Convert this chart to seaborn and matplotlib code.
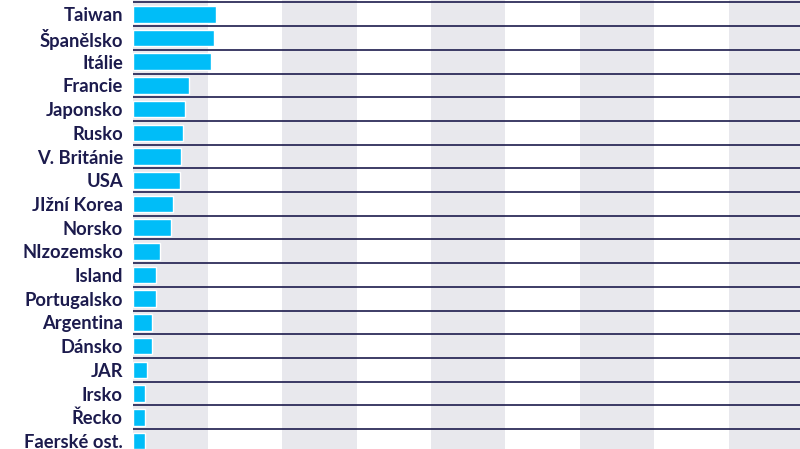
import matplotlib
matplotlib.use("Agg")
import matplotlib.pyplot as plt
import seaborn as sns
import pandas as pd

countries = ["Taiwan", "Španělsko", "Itálie", "Francie", "Japonsko", "Rusko",
             "V. Británie", "USA", "JIžní Korea", "Norsko", "NIzozemsko", "Island",
             "Portugalsko", "Argentina", "Dánsko", "JAR", "Irsko", "Řecko", "Faerské ost."]
values = [22.1, 21.6, 20.9, 14.9, 13.9, 13.4, 12.8, 12.6, 10.8, 10.1, 7.1, 6.0,
          6.0, 4.9, 4.9, 3.8, 3.2, 3.2, 3.2]

df = pd.DataFrame({"country": countries, "value": values})

sns.set_theme(style="white")
plt.rcParams["font.family"] = ["Lato", "DejaVu Sans"]

navy = "#1c1b4d"
fig = plt.figure(figsize=(8, 4.49), dpi=100)
ax = fig.add_axes([133.3 / 800, 0, 1 - 133.3 / 800, 1])

band = 20
for start in range(0, 200, 2 * band):
    ax.axvspan(start, start + band, color="#e8e8ed", lw=0, zorder=0)

sns.barplot(data=df, y="country", x="value", orient="h", color="#00bdf8",
            saturation=1, width=0.7, ax=ax, zorder=2)

for i in range(len(countries)):
    ax.axhline(i - 0.5, color=navy, lw=1.2, zorder=3)

ax.set_xlim(0, 179.2)
ax.set_ylim(18.34, -0.603)
ax.set_xlabel("")
ax.set_ylabel("")
ax.set_xticks([])
for s in ax.spines.values():
    s.set_visible(False)
ax.tick_params(axis="y", length=0, pad=7.5)
for lbl in ax.get_yticklabels():
    lbl.set_fontsize(13.2)
    lbl.set_fontweight("bold")
    lbl.set_color(navy)

fig.savefig("out.png", dpi=100, facecolor="white")
